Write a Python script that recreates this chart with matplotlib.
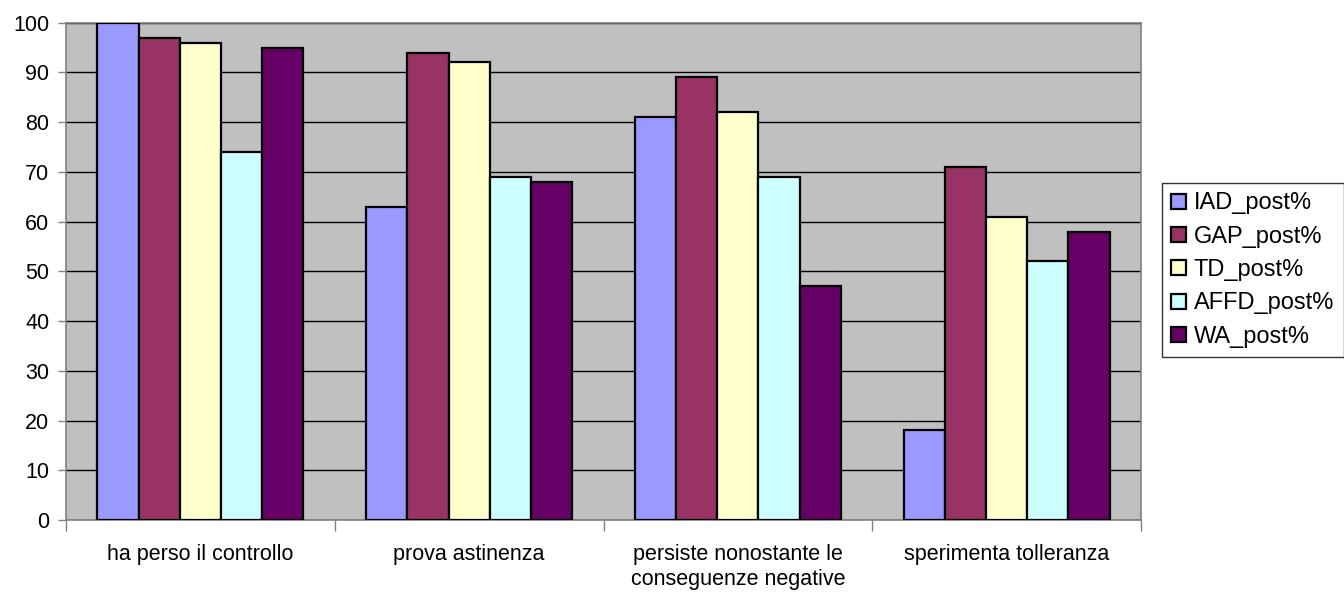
import numpy as np
import matplotlib.pyplot as plt

plt.rcParams['font.family'] = ['Liberation Sans', 'DejaVu Sans']

categories = ["ha perso il controllo", "prova astinenza",
              "persiste nonostante le\nconseguenze negative", "sperimenta tolleranza"]
series_names = ["IAD_post%", "GAP_post%", "TD_post%", "AFFD_post%", "WA_post%"]
iad = [100, 63, 81, 18]
gap = [97, 94, 89, 71]
td = [96, 92, 82, 61]
affd = [74, 69, 69, 52]
wa = [95, 68, 47, 58]
series_values = [iad, gap, td, affd, wa]
colors = ["#9999FF", "#993366", "#FFFFCC", "#CCFFFF", "#660066"]

fig = plt.figure(figsize=(13.44, 5.94), dpi=100)
ax = fig.add_axes([66/1344, 1-520/594, (1141-66)/1344, (520-22.7)/594])
ax.set_facecolor("#C0C0C0")

n = len(series_names)
x = np.arange(len(categories))
bw = 0.767 / n
for i, (name, vals, c) in enumerate(zip(series_names, series_values, colors)):
    ax.bar(x - 0.767/2 + bw*(i+0.5), vals, width=bw, color=c,
           edgecolor="black", linewidth=1.6, label=name, zorder=3)

ax.set_xlim(-0.5, len(categories)-0.5)
ax.set_ylim(0, 100)
ax.set_yticks(np.arange(0, 101, 10))
ax.yaxis.grid(True, color="black", linewidth=1.0, zorder=1)
ax.set_axisbelow(True)

ax.set_xticks(np.arange(-0.5, len(categories), 1.0))
ax.set_xticklabels([])
ax.set_xticks(x, minor=True)
ax.set_xticklabels(categories, minor=True, fontsize=15.5, linespacing=1.3)
ax.tick_params(axis='x', which='major', length=8, width=1, color="#808080", direction='out')
ax.tick_params(axis='x', which='minor', length=0, pad=17)
ax.tick_params(axis='y', length=6, width=1, color="#808080", labelsize=15.5, pad=6)

for side in ["left", "bottom", "right", "top"]:
    ax.spines[side].set_color("#808080")
    ax.spines[side].set_linewidth(1.2)

leg = fig.legend(loc="upper left", bbox_to_anchor=(1162/1344, 1-183/594),
                 fontsize=17, frameon=True, fancybox=False, edgecolor="black",
                 handlelength=0.6, handleheight=0.6, handletextpad=0.35,
                 labelspacing=0.48, borderpad=0.4, borderaxespad=0)
leg.get_frame().set_linewidth(1.0)

fig.savefig("out.png", dpi=100, facecolor="white")
